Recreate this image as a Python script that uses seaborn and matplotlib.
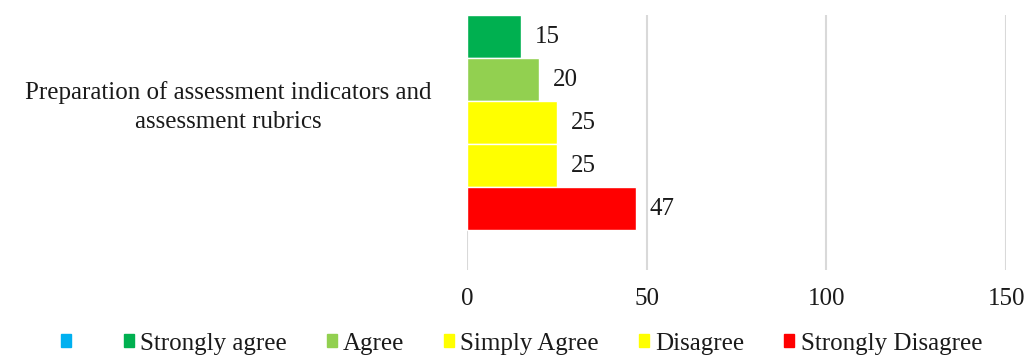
import numpy as np
import pandas as pd
import matplotlib
matplotlib.use("Agg")
import matplotlib.pyplot as plt
import seaborn as sns

categories = ["Preparation of assessment indicators and\nassessment rubrics"]
series = [" ", "Strongly agree", "Agree", "Simply Agree", "Disagree", "Strongly Disagree"]
values = [np.nan, 15, 20, 25, 25, 47]
colors = ["#00B0F0", "#00B050", "#92D050", "#FFFF00", "#FFFF00", "#FF0000"]
xticks = [0, 50, 100, 150]

sns.set_theme(style="white")
plt.rcParams["font.family"] = ["Liberation Serif", "DejaVu Serif"]
FS = 18
TXT = "#1a1a1a"

df = pd.DataFrame({
    "category": categories * len(series),
    "series": series,
    "value": values,
})

fig = plt.figure(figsize=(10.33, 3.58), dpi=100)
ax = fig.add_axes([0.452, 0.246, 0.522, 0.712])

sns.barplot(data=df, x="value", y="category", hue="series", hue_order=series,
            palette=dict(zip(series, colors)), orient="h", width=0.9, gap=0,
            saturation=1, ax=ax, legend=False)

for cont, v in zip(ax.containers, values):
    if np.isnan(v):
        continue
    ax.bar_label(cont, labels=[f"{v:g}"], padding=10, fontsize=FS, color=TXT)

ax.set_xlim(0, 150)
ax.set_ylim(0.589, -0.3)
ax.set_xticks(xticks)
ax.set_xticklabels([str(t) for t in xticks], fontsize=FS, color=TXT)
ax.tick_params(axis="x", length=0, pad=13)
ax.tick_params(axis="y", length=0, labelsize=FS, labelcolor=TXT)
for lbl in ax.get_yticklabels():
    lbl.set_horizontalalignment("center")
    lbl.set_linespacing(1.4)
    lbl.set_transform(ax.get_yaxis_transform())
    lbl.set_x(-0.443)
ax.set_xlabel("")
ax.set_ylabel("")
ax.xaxis.grid(True, color="#D9D9D9", linewidth=1.5)
ax.set_axisbelow(True)
for s in ax.spines.values():
    s.set_visible(False)

handles = [plt.Rectangle((0, 0), 1, 1, color=c) for c in colors]
fig.legend(handles, series, loc="center", bbox_to_anchor=(0.505, 0.04), ncol=6,
           frameon=False, fontsize=FS, handlelength=0.4, handleheight=0.4,
           handletextpad=0.25, columnspacing=1.6, labelcolor=TXT)

fig.savefig("out.png", dpi=100)
